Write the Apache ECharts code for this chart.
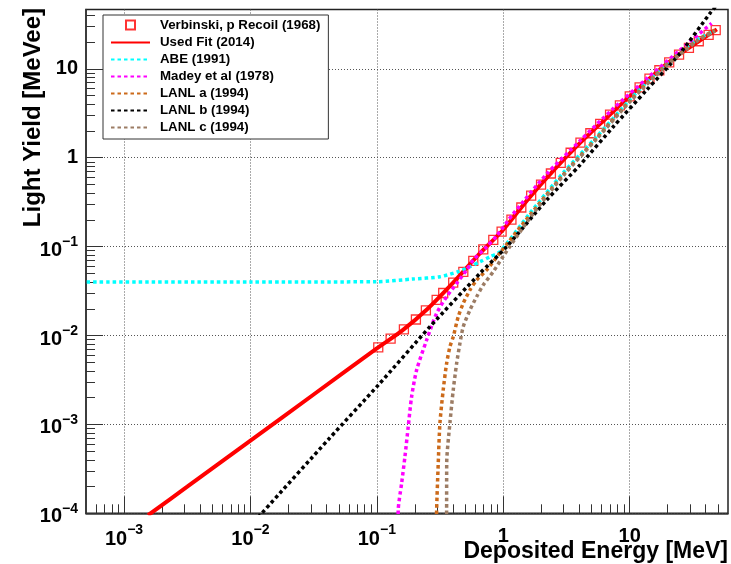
<!DOCTYPE html>
<html>
<head>
<meta charset="utf-8">
<script src="https://cdn.jsdelivr.net/npm/echarts@6/dist/echarts.min.js"></script>
<style>
  html, body { margin: 0; padding: 0; background: #fff; }
  #chart { width: 731px; height: 564px; }
</style>
</head>
<body>
<div id="chart"></div>
<script>
// Proton light output of an organic scintillator: measured points and fitted models.

// Verbinski, p recoil (1968) measured points: energy [MeV], light [MeVee]
const verbE = [0.1026, 0.1285, 0.1637, 0.2037, 0.2443, 0.2972, 0.335, 0.4018, 0.4831, 0.5794, 0.695, 0.834, 0.9705,
  1.161, 1.390, 1.663, 1.991, 2.382, 2.851, 3.412, 4.083, 4.887, 5.848, 6.998, 8.375, 10.02, 11.99, 14.35,
  17.18, 20.56, 24.60, 29.44, 35.24, 42.17, 47.97];
const verbL = [0.00736, 0.00923, 0.01175, 0.01514, 0.01914, 0.02512, 0.03006, 0.03936, 0.05188, 0.06918, 0.0933, 0.1189, 0.1472,
  0.2014, 0.2754, 0.375, 0.499, 0.665, 0.873, 1.138, 1.479, 1.884, 2.399, 3.052, 3.873, 4.91, 6.18, 7.76,
  9.64, 11.80, 14.45, 17.22, 20.42, 24.15, 27.23];

// Used fit (2014)
const fitE = [0.001549, 0.003162, 0.01, 0.03162, 0.1, 0.1585, 0.2512, 0.3981, 0.631, 1.0, 1.585, 2.512, 3.981, 6.31, 10, 15.85, 25.12, 39.81, 48.98];
const fitL = [9.51e-5, 1.99e-4, 6.58e-4, 2.17e-3, 7.16e-3, 0.01135, 0.01986, 0.0388, 0.0798, 0.1549, 0.3467, 0.7244, 1.429, 2.661, 4.898, 8.81, 14.79, 22.91, 27.8];

// ABE (1991)
const abeE = [0.0004, 0.01, 0.1, 0.193, 0.316, 0.438, 0.545, 0.655, 0.785, 0.942, 1.626, 2.966, 5.48, 10, 18.3, 33.9, 44.8];
const abeL = [0.0400, 0.0400, 0.0403, 0.0432, 0.0458, 0.0522, 0.0594, 0.0676, 0.0769, 0.0877, 0.238, 0.673, 1.72, 4.46, 10.6, 21.1, 25.9];

// Madey et al (1978)
const madeyE = [0.1470, 0.1476, 0.157, 0.1668, 0.1771, 0.1884, 0.2064, 0.2478, 0.2972, 0.3566, 0.4279, 0.5133, 0.5794, 0.7394, 0.887, 1.193, 2.217, 4.045, 7.38, 13.7, 25.0, 44.5];
const madeyL = [5e-5, 1.09e-4, 2.17e-4, 4.33e-4, 9.42e-4, 2.05e-3, 4.09e-3, 8.9e-3, 0.0178, 0.0273, 0.0386, 0.0546, 0.0707, 0.0998, 0.132, 0.232, 0.66, 1.55, 3.55, 7.8, 16.2, 32.5];

// LANL a (1994)
const lanlaE = [0.2960, 0.2972, 0.306, 0.3156, 0.335, 0.3565, 0.3787, 0.4022, 0.4406, 0.4825, 0.5452, 0.616, 0.7394, 0.942, 1.626, 2.966, 5.48, 10, 18.3, 33.9, 47.3];
const lanlaL = [5e-5, 1.09e-4, 3.65e-4, 1.03e-3, 2.44e-3, 4.86e-3, 7.48e-3, 9.7e-3, 0.01627, 0.0230, 0.0325, 0.0421, 0.0546, 0.085, 0.2265, 0.638, 1.667, 4.34, 10.2, 20.6, 27.4];

// LANL b (1994)
const lanlbE = [0.0115, 0.01233, 0.0422, 0.1026, 0.263, 0.6546, 1.064, 2.205, 4.045, 7.42, 13.63, 25.0, 43.2, 52];
const lanlbL = [9.0e-5, 1.007e-4, 6.98e-4, 2.77e-3, 0.01256, 0.0501, 0.0998, 0.334, 0.828, 2.23, 5.78, 14.9, 42.1, 58];

// LANL c (1994)
const lanlcE = [0.3560, 0.3565, 0.3570, 0.3787, 0.4022, 0.4279, 0.4544, 0.4825, 0.5452, 0.616, 0.695, 0.833, 1.0, 1.626, 2.966, 5.48, 10, 18.3, 33.9, 47.3];
const lanlcL = [5e-5, 1.09e-4, 3.68e-4, 1.04e-3, 2.44e-3, 4.86e-3, 8.17e-3, 0.01256, 0.01936, 0.0273, 0.037, 0.0522, 0.078, 0.21, 0.622, 1.626, 4.23, 10.0, 20.3, 26.6];

// Axis ranges and decade ticks
const X_MIN = 5e-4, X_MAX = 60;
const Y_MIN = 1e-4, Y_MAX = 46.5;
const xMajor = [1e-3, 1e-2, 1e-1, 1, 10];
const yMajor = [1e-4, 1e-3, 1e-2, 1e-1, 1, 10];

function minorTicks(lo, hi) {
  const out = [];
  for (let d = -5; d <= 2; d++) {
    for (let k = 2; k <= 9; k++) {
      const v = k * Math.pow(10, d);
      if (v > lo * 1.001 && v < hi * 0.999) out.push(v);
    }
  }
  return out;
}
const xMinor = minorTicks(X_MIN, X_MAX);
const yMinor = minorTicks(Y_MIN, Y_MAX);

const FONT = '"Liberation Sans", Arial, Helvetica, sans-serif';
const INK = '#000';

function pairs(xs, ys) { return xs.map((x, i) => [x, ys[i]]); }

function powLabel(v) {
  const e = Math.round(Math.log10(v));
  if (e === 0) return '{n|1}';
  if (e === 1) return '{n|10}';
  return '{b|10}{s|\u2212' + (-e) + '}';
}

const richX = {
  n: { fontFamily: FONT, fontWeight: 'bold', fontSize: 20, color: INK, lineHeight: 26 },
  b: { fontFamily: FONT, fontWeight: 'bold', fontSize: 20, color: INK, lineHeight: 26, verticalAlign: 'bottom' },
  s: { fontFamily: FONT, fontWeight: 'bold', fontSize: 14, color: INK, lineHeight: 12, verticalAlign: 'top' }
};
const richY = {
  n: { fontFamily: FONT, fontWeight: 'bold', fontSize: 20, color: INK, lineHeight: 27 },
  b: { fontFamily: FONT, fontWeight: 'bold', fontSize: 20, color: INK, lineHeight: 27, verticalAlign: 'bottom' },
  s: { fontFamily: FONT, fontWeight: 'bold', fontSize: 14, color: INK, lineHeight: 14, verticalAlign: 'top', padding: [2, 0, 0, 0] }
};

const tickStyle = { color: '#333', width: 1 };
const gridLine = { color: '#555', width: 1, type: [1, 2] };

function dotted(color) {
  return { color: color, width: 3.5, type: [3.5, 3], cap: 'butt' };
}

function curve(name, xs, ys, lineStyle) {
  return {
    name: name, type: 'line', data: pairs(xs, ys),
    xAxisIndex: 0, yAxisIndex: 0,
    symbol: 'none', showSymbol: false, smooth: 0.25, clip: true,
    lineStyle: lineStyle, itemStyle: { color: lineStyle.color },
    emphasis: { disabled: true }, silent: true
  };
}

// legend rows for plain curves: line only, no marker
function lineEntry(name) {
  return { name: name, itemStyle: { opacity: 0 } };
}

const chart = echarts.init(document.getElementById('chart'), null, { renderer: 'canvas' });

chart.setOption({
  animation: false,
  backgroundColor: '#fff',
  grid: {
    left: 86, right: 3, top: 9.5, bottom: 50.7,
    show: true, borderColor: '#222', borderWidth: 1.5, backgroundColor: 'transparent',
    outerBoundsMode: 'none', containLabel: false
  },
  xAxis: [
    {
      type: 'log', logBase: 10, min: X_MIN, max: X_MAX, position: 'bottom',
      axisLine: { show: true, onZero: false, lineStyle: { color: '#333', width: 1.5 } },
      axisTick: { show: true, inside: true, length: 17, customValues: xMajor, lineStyle: tickStyle },
      axisLabel: { show: true, customValues: xMajor, margin: 10, formatter: powLabel, rich: richX },
      splitLine: { show: true, lineStyle: gridLine },
      minorTick: { show: false }, minorSplitLine: { show: false }
    },
    {
      type: 'log', logBase: 10, min: X_MIN, max: X_MAX, position: 'bottom',
      axisLine: { show: false },
      axisTick: { show: true, inside: true, length: 9, customValues: xMinor, lineStyle: tickStyle },
      axisLabel: { show: false },
      splitLine: { show: false }
    }
  ],
  yAxis: [
    {
      type: 'log', logBase: 10, min: Y_MIN, max: Y_MAX, position: 'left',
      axisLine: { show: true, onZero: false, lineStyle: { color: '#333', width: 1.5 } },
      axisTick: { show: true, inside: true, length: 17, customValues: yMajor, lineStyle: tickStyle },
      axisLabel: { show: true, customValues: yMajor, margin: 8, formatter: powLabel, rich: richY },
      splitLine: { show: true, lineStyle: gridLine },
      minorTick: { show: false }, minorSplitLine: { show: false }
    },
    {
      type: 'log', logBase: 10, min: Y_MIN, max: Y_MAX, position: 'left',
      axisLine: { show: false },
      axisTick: { show: true, inside: true, length: 9, customValues: yMinor, lineStyle: tickStyle },
      axisLabel: { show: false },
      splitLine: { show: false }
    }
  ],
  legend: {
    orient: 'vertical', left: 103, top: 15,
    itemWidth: 39, itemHeight: 12, itemGap: 4,
    padding: [3, 8, 5, 7],
    backgroundColor: '#fff', borderColor: '#333', borderWidth: 1,
    selectedMode: false,
    textStyle: { fontFamily: FONT, fontWeight: 'bold', fontSize: 13.3, color: INK, padding: [0, 0, 0, 5] },
    data: [
      { name: 'Verbinski, p Recoil (1968)', icon: 'path://M0,0M39,12M15,1.5h9v9h-9z' },
      lineEntry('Used Fit (2014)'), lineEntry('ABE (1991)'), lineEntry('Madey et al (1978)'),
      lineEntry('LANL a (1994)'), lineEntry('LANL b (1994)'), lineEntry('LANL c (1994)')
    ]
  },
  graphic: [
    {
      type: 'text', x: 33, y: 8, rotation: Math.PI / 2, silent: true,
      style: { text: 'Light Yield [MeVee]', font: 'bold 24px ' + FONT, fill: INK, align: 'right', verticalAlign: 'middle' }
    },
    {
      type: 'text', x: 728, y: 552, silent: true,
      style: { text: 'Deposited Energy [MeV]', font: 'bold 23px ' + FONT, fill: INK, align: 'right', verticalAlign: 'middle' }
    }
  ],
  series: [
    {
      name: 'Verbinski, p Recoil (1968)', type: 'scatter', data: pairs(verbE, verbL),
      xAxisIndex: 0, yAxisIndex: 0,
      symbol: 'rect', symbolSize: 9,
      itemStyle: { color: 'rgba(255,0,0,0)', borderColor: '#ff0000', borderWidth: 1.3 },
      emphasis: { disabled: true }, silent: true
    },
    curve('Used Fit (2014)', fitE, fitL, { color: '#ff0000', width: 4, type: 'solid' }),
    curve('ABE (1991)', abeE, abeL, dotted('#00ffff')),
    curve('Madey et al (1978)', madeyE, madeyL, dotted('#ff00ff')),
    curve('LANL a (1994)', lanlaE, lanlaL, dotted('#cc6a1a')),
    curve('LANL b (1994)', lanlbE, lanlbL, dotted('#000000')),
    curve('LANL c (1994)', lanlcE, lanlcL, dotted('#9c7c64'))
  ]
});
</script>
</body>
</html>
